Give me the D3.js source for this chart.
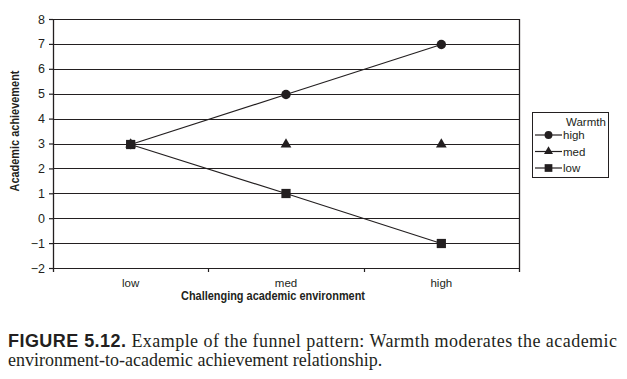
<!DOCTYPE html>
<html>
<head>
<meta charset="utf-8">
<script src="https://cdnjs.cloudflare.com/ajax/libs/d3/7.8.5/d3.min.js"></script>
<style>
  body { margin: 0; background: #fff; }
  text { fill: #231f20; }
</style>
</head>
<body>
<div id="chart"></div>
<script>
// chart data
var categories = ['low', 'med', 'high'];
var seriesNames = ['high', 'med', 'low'];
var highValues = [3, 5, 7];
var medValues = [3, 3, 3];
var lowValues = [3, 1, -1];
var yTicks = [-2, -1, 0, 1, 2, 3, 4, 5, 6, 7, 8];

var ink = '#231f20';
var W = 627, H = 379;
var plotLeft = 53, plotRight = 519, plotTop = 19, plotBottom = 268;

var svg = d3.select('#chart').append('svg')
    .attr('width', W)
    .attr('height', H);

var x = d3.scaleBand().domain(categories).range([plotLeft, plotRight]);
var y = d3.scaleLinear().domain([-2, 8]).range([plotBottom, plotTop]);
var ySnap = function(v) { return Math.round(y(v)) + 0.5; };

// gridlines
svg.append('g').selectAll('line')
    .data(yTicks)
    .enter().append('line')
    .attr('x1', plotLeft).attr('x2', plotRight)
    .attr('y1', ySnap)
    .attr('y2', ySnap)
    .attr('stroke', ink).attr('stroke-width', 1.2);

// y axis
var yAxis = svg.append('g')
    .attr('transform', 'translate(' + plotLeft + ',0)')
    .call(d3.axisLeft(y).tickValues(yTicks).tickSize(4).tickPadding(4)
        .tickFormat(function(d) { return d < 0 ? '\u2212' + Math.abs(d) : d; }));
yAxis.select('.domain').remove();
yAxis.selectAll('.tick line').attr('stroke', ink).attr('stroke-width', 1.2);
yAxis.selectAll('text').attr('font-family', 'Liberation Sans, Arial, sans-serif')
    .attr('font-size', 12.5).style('fill', ink);
svg.append('line')
    .attr('x1', plotLeft + 0.5).attr('x2', plotLeft + 0.5)
    .attr('y1', plotTop).attr('y2', plotBottom + 4)
    .attr('stroke', ink).attr('stroke-width', 1.3);

// right border
svg.append('line')
    .attr('x1', plotRight + 0.5).attr('x2', plotRight + 0.5)
    .attr('y1', plotTop).attr('y2', plotBottom + 4)
    .attr('stroke', ink).attr('stroke-width', 1.3);

// x ticks between categories
var xTickPos = categories.slice(1).map(function(c) { return x(c); });
svg.append('g').selectAll('line')
    .data(xTickPos)
    .enter().append('line')
    .attr('x1', function(d) { return Math.round(d) + 0.5; })
    .attr('x2', function(d) { return Math.round(d) + 0.5; })
    .attr('y1', plotBottom).attr('y2', plotBottom + 4)
    .attr('stroke', ink).attr('stroke-width', 1.2);

// x labels
svg.append('g').selectAll('text')
    .data(categories)
    .enter().append('text')
    .attr('x', function(d) { return x(d) + x.bandwidth() / 2; })
    .attr('y', 287)
    .attr('text-anchor', 'middle')
    .attr('font-family', 'Liberation Sans, Arial, sans-serif')
    .attr('font-size', 11.5)
    .text(function(d) { return d; });

// axis titles
svg.append('text')
    .attr('x', 273).attr('y', 300)
    .attr('text-anchor', 'middle')
    .attr('font-family', 'Liberation Sans Narrow, Arial Narrow, Liberation Sans, sans-serif')
    .attr('font-weight', 'bold')
    .attr('font-size', 12)
    .attr('textLength', 184)
    .attr('lengthAdjust', 'spacingAndGlyphs')
    .text('Challenging academic environment');

svg.append('text')
    .attr('transform', 'translate(19,' + 131 + ') rotate(-90)')
    .attr('text-anchor', 'middle')
    .attr('font-family', 'Liberation Sans Narrow, Arial Narrow, Liberation Sans, sans-serif')
    .attr('font-weight', 'bold')
    .attr('font-size', 12)
    .attr('textLength', 121)
    .attr('lengthAdjust', 'spacingAndGlyphs')
    .text('Academic achievement');

// series
var series = [
  { name: 'high', values: highValues, shape: d3.symbolCircle, size: 70 },
  { name: 'med', values: medValues, shape: d3.symbolTriangle, size: 50 },
  { name: 'low', values: lowValues, shape: d3.symbolSquare, size: 85 }
];

var line = d3.line()
    .x(function(d, i) { return x(categories[i]) + x.bandwidth() / 2; })
    .y(ySnap);

series.forEach(function(s) {
  svg.append('path')
      .datum(s.values)
      .attr('d', line)
      .attr('fill', 'none')
      .attr('stroke', ink)
      .attr('stroke-width', 1.2);
});

series.forEach(function(s) {
  svg.append('g').selectAll('path')
      .data(s.values)
      .enter().append('path')
      .attr('transform', function(d, i) {
        return 'translate(' + (x(categories[i]) + x.bandwidth() / 2) + ',' + ySnap(d) + ')';
      })
      .attr('d', d3.symbol().type(s.shape).size(s.size))
      .attr('fill', ink);
});

// legend
var lg = svg.append('g').attr('transform', 'translate(532,112)');
lg.append('rect')
    .attr('x', 0.5).attr('y', 0.5)
    .attr('width', 76).attr('height', 65)
    .attr('fill', '#fff').attr('stroke', ink).attr('stroke-width', 1);
lg.append('text')
    .attr('x', 34).attr('y', 14)
    .attr('font-family', 'Liberation Sans, Arial, sans-serif')
    .attr('font-size', 11.5)
    .text('Warmth');
series.forEach(function(s, i) {
  var cy = 23 + i * 16.5;
  lg.append('line')
      .attr('x1', 3).attr('x2', 30)
      .attr('y1', cy).attr('y2', cy)
      .attr('stroke', ink).attr('stroke-width', 1.2);
  lg.append('path')
      .attr('transform', 'translate(16.5,' + cy + ')')
      .attr('d', d3.symbol().type(s.shape).size(s.size * 0.7))
      .attr('fill', ink);
  lg.append('text')
      .attr('x', 31).attr('y', cy + 4)
      .attr('font-family', 'Liberation Sans, Arial, sans-serif')
      .attr('font-size', 11.5)
      .text(seriesNames[i]);
});

// caption
var cap = svg.append('text')
    .attr('x', 8).attr('y', 347)
    .attr('font-family', 'Liberation Serif, Times New Roman, serif')
    .attr('font-size', 18)
    .attr('textLength', 609)
    .attr('lengthAdjust', 'spacing');
cap.append('tspan')
    .attr('font-family', 'Liberation Sans, Arial, sans-serif')
    .attr('font-weight', 'bold')
    .attr('font-size', 18)
    .text('FIGURE 5.12.');
cap.append('tspan')
    .text(' Example of the funnel pattern: Warmth moderates the academic');
svg.append('text')
    .attr('x', 8).attr('y', 366)
    .attr('font-family', 'Liberation Serif, Times New Roman, serif')
    .attr('font-size', 18)
    .text('environment-to-academic achievement relationship.');
</script>
</body>
</html>
